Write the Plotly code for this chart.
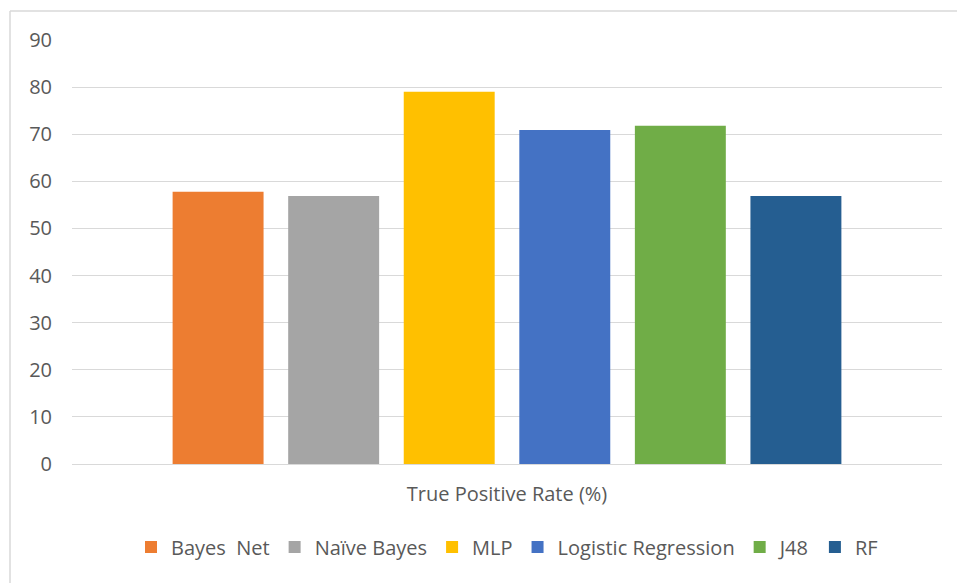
import plotly.graph_objects as go

category = ["True Positive Rate (%)"]
series_names = ["Bayes  Net", "Naïve Bayes", "MLP", "Logistic Regression", "J48", "RF"]
series_values = [57.8, 56.9, 79.0, 70.9, 71.8, 56.9]
series_colors = ["#ED7D31", "#A5A5A5", "#FFC000", "#4472C4", "#70AD47", "#255E91"]
y_ticks = [0, 10, 20, 30, 40, 50, 60, 70, 80, 90]

FONT = "Open Sans"
TXT = "#595959"

fig = go.Figure()
for name, val, col in zip(series_names, series_values, series_colors):
    fig.add_trace(go.Bar(
        x=category, y=[val], name=name,
        marker=dict(color=col, line=dict(width=0)),
    ))

W, H = 957, 583
L, R, T, B = 72, 15, 40, 119
pw, ph = W - L - R, H - T - B

def px_x(x):
    return (x - L) / pw

def px_y(y):
    return (H - B - y) / ph

fig.update_layout(
    width=W, height=H,
    margin=dict(l=L, r=R, t=T, b=B, autoexpand=False),
    paper_bgcolor="white", plot_bgcolor="white",
    barmode="group", bargap=0.203, bargroupgap=0.213,
    font=dict(family=FONT, size=20, color=TXT),
    showlegend=True,
    legend=dict(
        orientation="h", x=0.5, xanchor="center",
        y=px_y(547), yanchor="middle",
        font=dict(family=FONT, size=20, color=TXT),
        itemwidth=30, traceorder="normal",
    ),
    xaxis=dict(
        showgrid=False, showline=True, linecolor="#D9D9D9", linewidth=1,
        tickfont=dict(family=FONT, size=20, color=TXT),
        ticks="", ticklabelstandoff=12, fixedrange=True,
    ),
    yaxis=dict(
        range=[0, 90], tickvals=y_ticks, showgrid=True, gridcolor="#D9D9D9",
        gridwidth=1, zeroline=False, showline=False, ticks="",
        tickfont=dict(family=FONT, size=20, color=TXT),
        ticklabelstandoff=19, fixedrange=True,
    ),
    shapes=[
        dict(type="line", xref="paper", yref="paper",
             x0=px_x(10), x1=px_x(W), y0=px_y(11), y1=px_y(11),
             line=dict(color="#D9D9D9", width=1.5)),
        dict(type="line", xref="paper", yref="paper",
             x0=px_x(10), x1=px_x(10), y0=px_y(11), y1=px_y(H),
             line=dict(color="#D9D9D9", width=1.5)),
    ],
)

fig.write_html("out.html")
